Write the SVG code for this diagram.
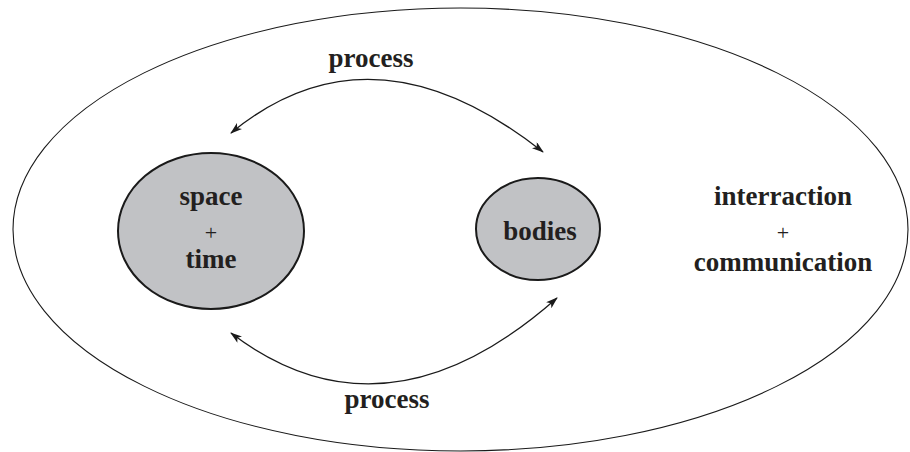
<svg xmlns="http://www.w3.org/2000/svg" width="910" height="452" viewBox="0 0 910 452">
  <style>
    .frame { fill: none; stroke: #1a1a1a; stroke-width: 1.1; }
    .node { fill: #c1c2c5; stroke: #1a1a1a; stroke-width: 2; }
    .label { font-family: "Liberation Serif", "Times New Roman", serif; font-size: 27px; font-weight: bold; fill: #231f20; text-anchor: middle; }
    .plus { font-family: "Liberation Serif", "Times New Roman", serif; font-size: 22px; font-weight: normal; fill: #231f20; text-anchor: middle; }
    .arc { fill: none; stroke: #1a1a1a; stroke-width: 1.3; }
  </style>
  <defs>
    <marker id="head" viewBox="0 0 12 8" refX="11" refY="4" markerWidth="12" markerHeight="8" markerUnits="userSpaceOnUse" orient="auto-start-reverse">
      <path d="M0,0 L12,4 L0,8 L3,4 z" fill="#1a1a1a"/>
    </marker>
  </defs>

  <rect width="910" height="452" fill="#ffffff"/>

  <!-- outer boundary -->
  <g id="context">
    <ellipse class="frame" cx="460.5" cy="229.5" rx="447.5" ry="221.5"/>
    <text class="label" x="783" y="205">interraction</text>
    <text class="plus" x="783" y="240">+</text>
    <text class="label" x="783" y="271">communication</text>
  </g>

  <g id="space-time">
    <ellipse class="node" cx="211" cy="231" rx="93" ry="78"/>
    <text class="label" x="211" y="205">space</text>
    <text class="plus" x="211" y="240">+</text>
    <text class="label" x="211" y="268">time</text>
  </g>

  <g id="bodies">
    <ellipse class="node" cx="538" cy="229" rx="62" ry="51"/>
    <text class="label" x="540" y="240">bodies</text>
  </g>

  <g id="connectors">
    <path class="arc" d="M231,133 Q372,17 543,152" marker-start="url(#head)" marker-end="url(#head)"/>
    <path class="arc" d="M231,333 Q385,450 557,298" marker-start="url(#head)" marker-end="url(#head)"/>
    <text class="label" x="371" y="67">process</text>
    <text class="label" x="387" y="408">process</text>
  </g>
</svg>
